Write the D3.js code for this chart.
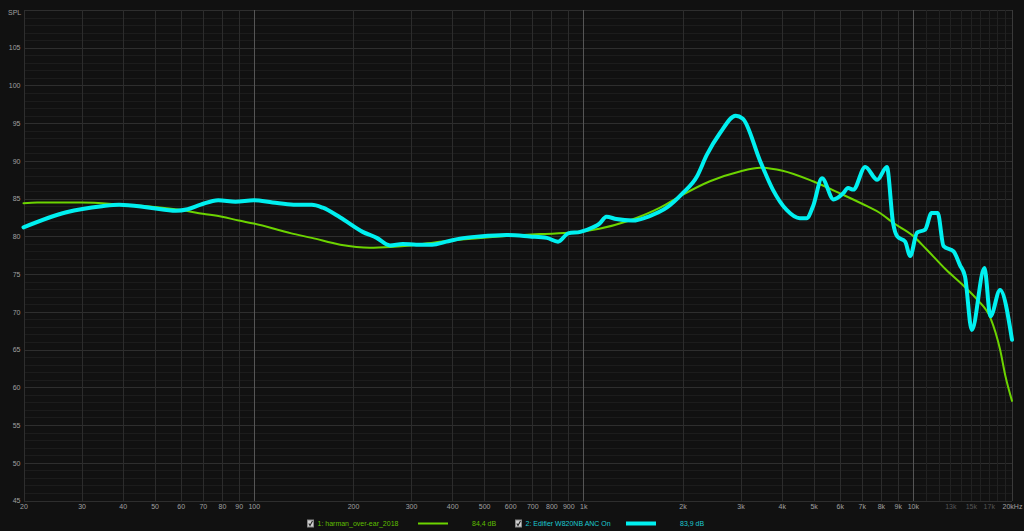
<!DOCTYPE html>
<html>
<head>
<meta charset="utf-8">
<script src="https://cdn.jsdelivr.net/npm/d3@7"></script>
<style>
  body { margin: 0; background: #111111; }
  svg { display: block; font-family: "Liberation Sans", Arial, sans-serif; }
  .grid line { shape-rendering: crispEdges; }
  .axis .domain { display: none; }
  .axis line { display: none; }
</style>
</head>
<body>
<script>
var W = 1024, H = 531;

// frequency response: harman target
var harmanFreq = [20, 22, 25, 30, 40, 50, 60, 70, 80, 90, 100, 130, 150, 183, 225, 260, 300, 367, 520, 740, 930, 1118, 1358, 1710, 2000, 2423, 2987, 3442, 4024, 4975, 6012, 7264, 7950, 8716, 10000, 11000, 12600, 14300, 15700, 17200, 18400, 19100, 20000];
var harmanDb = [84.4, 84.5, 84.5, 84.5, 84.2, 83.9, 83.5, 83.0, 82.6, 82.1, 81.7, 80.4, 79.8, 78.9, 78.5, 78.6, 78.8, 79.3, 79.9, 80.3, 80.5, 81.0, 82.0, 83.8, 85.5, 87.3, 88.6, 89.1, 88.7, 87.3, 85.7, 84.0, 83.1, 81.8, 80.1, 78.3, 75.6, 73.4, 71.6, 69.2, 65.0, 61.5, 58.2];

// frequency response: Edifier W820NB ANC On
var edifierFreq = [20, 27, 34.6, 39, 48.4, 58, 63, 69, 78, 88, 100, 114, 132, 150, 162, 183, 214, 236, 259, 283, 311, 348, 384, 422, 485, 584, 688, 775, 838, 900, 980, 1070, 1120, 1175, 1260, 1410, 1590, 1790, 2000, 2210, 2370, 2600, 2900, 3050, 3440, 3760, 4140, 4540, 4760, 4980, 5300, 5750, 6140, 6360, 6600, 7170, 7800, 8340, 8710, 8970, 9480, 9820, 10300, 10900, 11400, 11900, 12400, 13300, 13900, 14400, 15100, 16500, 17200, 18400, 20000];
var edifierDb = [81.2, 83.2, 84.0, 84.2, 83.8, 83.4, 83.6, 84.2, 84.8, 84.6, 84.8, 84.5, 84.2, 84.2, 83.8, 82.5, 80.6, 79.8, 78.8, 79.0, 78.9, 78.9, 79.3, 79.7, 80.0, 80.2, 80.0, 79.8, 79.3, 80.4, 80.6, 81.2, 81.7, 82.6, 82.3, 82.1, 82.7, 83.8, 85.7, 87.9, 90.8, 93.7, 96.0, 95.6, 90.0, 86.2, 83.5, 82.4, 82.4, 84.0, 87.7, 84.9, 85.7, 86.4, 86.2, 89.2, 87.5, 89.2, 81.8, 80.0, 79.3, 77.4, 80.5, 80.9, 83.1, 83.1, 78.7, 78.0, 76.2, 74.7, 67.6, 75.8, 69.4, 72.9, 66.3];

// axis ticks
var xTicks = [20, 30, 40, 50, 60, 70, 80, 90, 100, 200, 300, 400, 500, 600, 700, 800, 900, 1000, 2000, 3000, 4000, 5000, 6000, 7000, 8000, 9000, 10000, 13000, 15000, 17000, 20000];
var xTickLabels = ["20", "30", "40", "50", "60", "70", "80", "90", "100", "200", "300", "400", "500", "600", "700", "800", "900", "1k", "2k", "3k", "4k", "5k", "6k", "7k", "8k", "9k", "10k", "13k", "15k", "17k", "20kHz"];
var xGrid = [30, 40, 50, 60, 70, 80, 90, 200, 300, 400, 500, 600, 700, 800, 900, 2000, 3000, 4000, 5000, 6000, 7000, 8000, 9000];
var xGridHi = [11000, 12000, 13000, 14000, 15000, 16000, 17000, 18000, 19000];
var xGridMajor = [100, 1000, 10000];
var yTicks = [45, 50, 55, 60, 65, 70, 75, 80, 85, 90, 95, 100, 105];

var series = [
  { name: "1: harman_over-ear_2018", avg: "84,4 dB", freq: harmanFreq, db: harmanDb, color: "#6cd400", text: "#5fbf00", width: 2 },
  { name: "2: Edifier W820NB ANC On", avg: "83,9 dB", freq: edifierFreq, db: edifierDb, color: "#00f0f0", text: "#1cc8d0", width: 4 }
];

var pLeft = 23.5, pRight = 1012, pTop = 10, pBottom = 500.5;

var x = d3.scaleLog().domain([20, 20000]).range([pLeft, pRight]);
var y = d3.scaleLinear().domain([45, 110]).range([pBottom, pTop]);

var svg = d3.select("body").append("svg")
  .attr("width", W)
  .attr("height", H);

svg.append("rect")
  .attr("width", W).attr("height", H)
  .attr("fill", "#111111");

// horizontal grid, 1 dB minor and 5 dB major
var minorDb = d3.range(46, 110).filter(function(d) { return d % 5 != 0; });
function hlines(data, color) {
  svg.append("g").attr("class", "grid")
    .selectAll("line").data(data).enter().append("line")
    .attr("x1", pLeft).attr("x2", pRight)
    .attr("y1", function(d) { return Math.round(y(d)) + 0.5; })
    .attr("y2", function(d) { return Math.round(y(d)) + 0.5; })
    .attr("stroke", color);
}
hlines(minorDb, "#1c1c1c");
hlines(yTicks.concat([110]), "#2e2e2e");

// vertical grid
function vlines(data, color) {
  svg.append("g").attr("class", "grid")
    .selectAll("line").data(data).enter().append("line")
    .attr("x1", function(d) { return Math.round(x(d)) + 0.5; })
    .attr("x2", function(d) { return Math.round(x(d)) + 0.5; })
    .attr("y1", pTop).attr("y2", pBottom)
    .attr("stroke", color);
}
vlines(xGridHi, "#212121");
vlines(xGrid, "#2c2c2c");
vlines([20], "#2e2e2e");
vlines([20000], "#3a3a3a");
vlines(xGridMajor, "#555555");

// curves
var line = d3.line()
  .x(function(d) { return x(d[0]); })
  .y(function(d) { return y(d[1]); })
  .curve(d3.curveMonotoneX);

series.forEach(function(s) {
  var pts = s.freq.map(function(f, i) { return [f, s.db[i]]; });
  svg.append("path")
    .datum(pts)
    .attr("d", line)
    .attr("fill", "none")
    .attr("stroke", s.color)
    .attr("stroke-width", s.width)
    .attr("stroke-linejoin", "round")
    .attr("stroke-linecap", "round");
});

// axes
var yAxis = d3.axisLeft(y).tickValues(yTicks).tickSize(0).tickPadding(3);
var gy = svg.append("g")
  .attr("class", "axis")
  .attr("transform", "translate(" + pLeft + ",0)")
  .call(yAxis);
gy.selectAll("text")
  .style("fill", "#a0a0a0")
  .style("font-size", "7px")
  .style("font-family", "Liberation Sans, Arial, sans-serif");

var xAxis = d3.axisBottom(x).tickValues(xTicks).tickSize(0).tickPadding(4)
  .tickFormat(function(d, i) { return xTickLabels[i]; });
var gx = svg.append("g")
  .attr("class", "axis")
  .attr("transform", "translate(0," + pBottom + ")")
  .call(xAxis);
gx.selectAll("text")
  .style("fill", function(d) { return (d == 13000 || d == 15000 || d == 17000) ? "#555555" : "#a0a0a0"; })
  .style("font-size", "7px")
  .style("font-family", "Liberation Sans, Arial, sans-serif");

svg.append("text")
  .attr("x", 8).attr("y", 15)
  .attr("fill", "#a0a0a0")
  .attr("font-size", 7)
  .text("SPL");

// legend
var legendX = [307, 515];
series.forEach(function(s, i) {
  var g = svg.append("g").attr("transform", "translate(" + legendX[i] + ",523.5)");
  g.append("rect")
    .attr("x", 0.5).attr("y", -3.5).attr("width", 6).attr("height", 7)
    .attr("fill", "#cfcfcf").attr("stroke", "#888");
  g.append("path")
    .attr("d", "M1.8,0 L3,2 L5.5,-2.5")
    .attr("fill", "none").attr("stroke", "#222").attr("stroke-width", 1.1);
  g.append("text")
    .attr("x", 10.5).attr("y", 2.5)
    .attr("fill", s.text)
    .attr("font-size", 7)
    .text(s.name);
  g.append("line")
    .attr("x1", 111).attr("x2", 141)
    .attr("y1", 0).attr("y2", 0)
    .attr("stroke", s.color)
    .attr("stroke-width", s.width);
  g.append("text")
    .attr("x", 165).attr("y", 2.5)
    .attr("fill", s.text)
    .attr("font-size", 7)
    .text(s.avg);
});
</script>
</body>
</html>
